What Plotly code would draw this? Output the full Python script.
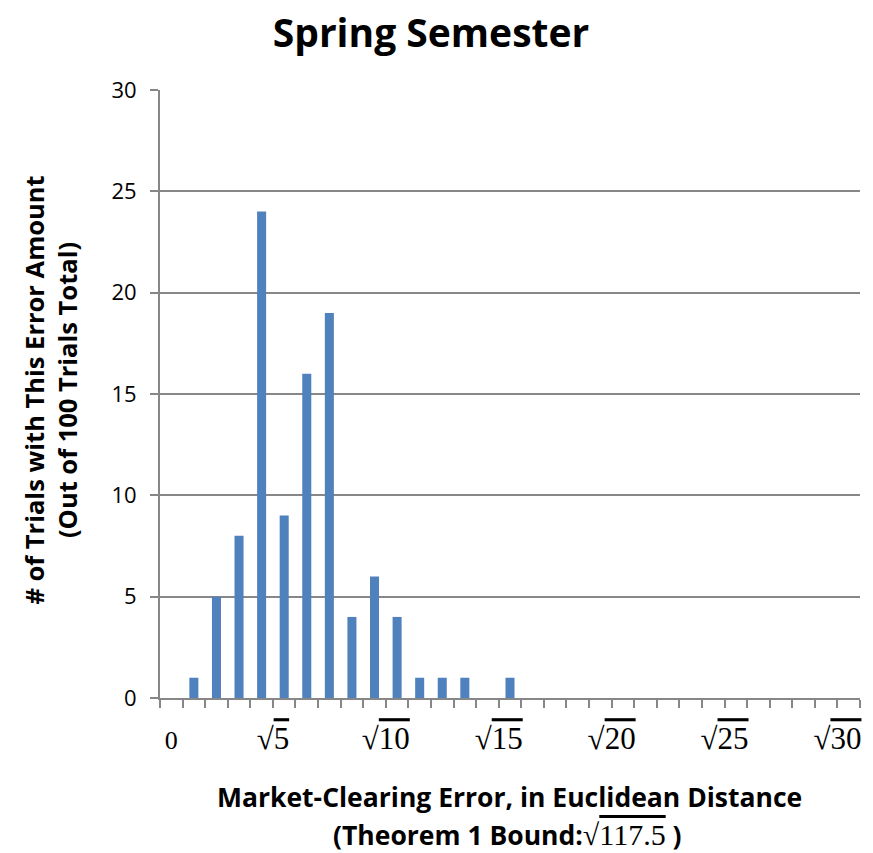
import plotly.graph_objects as go

categories = list(range(31))
counts = [0, 1, 5, 8, 24, 9, 16, 19, 4, 6, 4, 1, 1, 1, 0, 1,
          0, 0, 0, 0, 0, 0, 0, 0, 0, 0, 0, 0, 0, 0, 0]
tick_labels = [0, 5, 10, 15, 20, 25, 30]
y_ticks = [0, 5, 10, 15, 20, 25, 30]

# label positions (radical labels sit slightly left of their category in the original)
tick_vals = [0] + [v - 0.5 for v in tick_labels[1:]]
tick_text = ["<span style='font-size:26px'>0</span>"] + [
    "√<span style='text-decoration:overline'>%d</span>" % v for v in tick_labels[1:]]

GRAY = "#878787"
SANS = "'Open Sans', Lato, sans-serif"
SERIF = "'Liberation Serif', 'DejaVu Serif', serif"

fig = go.Figure(go.Bar(x=categories, y=counts, marker=dict(color="#4F81BD", line=dict(width=0)), width=0.4))

fig.update_layout(
    width=865, height=845,
    margin=dict(l=152, r=13, t=82, b=155),
    paper_bgcolor="white", plot_bgcolor="white",
    showlegend=False,
    title=dict(text="<b>Spring Semester</b>", x=0.489, xref="container", xanchor="center",
               y=0.970, yref="container", yanchor="middle",
               font=dict(family=SANS, size=39, color="black")),
)
fig.update_xaxes(
    range=[-0.5, 30.5], tickmode="array", tickvals=tick_vals, ticktext=tick_text,
    ticks="", showgrid=False, zeroline=False,
    showline=True, linecolor=GRAY, linewidth=2,
    tickfont=dict(family=SERIF, size=31, color="black"),
    ticklabelstandoff=12,
    minor=dict(ticks="outside", tick0=-0.5, dtick=1, ticklen=8, tickcolor=GRAY, tickwidth=1.5, showgrid=False),
)
fig.update_yaxes(
    range=[0, 30], tickmode="array", tickvals=y_ticks,
    ticks="outside", ticklen=8, tickcolor=GRAY, tickwidth=1.5,
    showgrid=True, gridcolor=GRAY, gridwidth=1.5, zeroline=False,
    showline=True, linecolor=GRAY, linewidth=2,
    tickfont=dict(family=SANS, size=22, color="black"),
    ticklabelstandoff=9,
)
fig.add_annotation(text="<b># of Trials with This Error Amount<br>(Out of 100 Trials Total)</b>",
                   xref="paper", yref="paper", x=-0.156, y=0.507, xanchor="center", yanchor="middle",
                   textangle=-90, showarrow=False,
                   font=dict(family=SANS, size=25.5, color="black"))
fig.add_annotation(text="<b>Market-Clearing Error, in Euclidean Distance</b>",
                   xref="paper", yref="paper", x=0.499, y=-0.163, xanchor="center", yanchor="middle",
                   showarrow=False, font=dict(family=SANS, size=26.5, color="black"))
fig.add_annotation(text="<span style='font-family:Open Sans;font-size:26.5px;font-weight:bold'>(Theorem 1 Bound:</span>√"
                        "<span style='text-decoration:overline'>117.5</span>"
                        "<span style='font-family:Open Sans;font-size:26.5px;font-weight:bold'> )</span>",
                   xref="paper", yref="paper", x=0.497, y=-0.226, xanchor="center", yanchor="middle",
                   showarrow=False, font=dict(family=SERIF, size=30, color="black"))

fig.write_html("out.html")
